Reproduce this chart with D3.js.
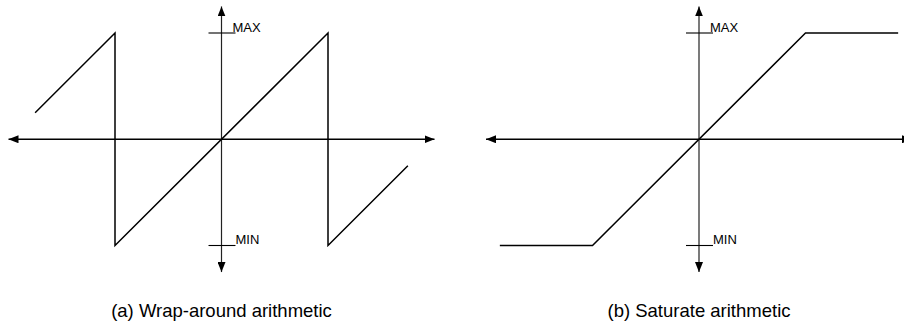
<!DOCTYPE html>
<html>
<head>
<meta charset="utf-8">
<script src="https://cdn.jsdelivr.net/npm/d3@7"></script>
<style>
  body { margin: 0; background: #fff; }
  text { font-family: "Liberation Sans", Arial, sans-serif; fill: #000; }
</style>
</head>
<body>
<div id="chart"></div>
<script>
// data (MAX = 1, MIN = -1)
var wrapX = [-1.75, -1, -1, 1, 1, 1.75];
var wrapY = [0.25, 1, -1, 1, -1, -0.25];
var satX = [-1.87, -1, 1, 1.87];
var satY = [-1, -1, 1, 1];
var levelLabels = ["MAX", "MIN"];
var levelValues = [1, -1];
var captions = ["(a) Wrap-around arithmetic", "(b) Saturate arithmetic"];

var width = 904,
  height = 325;

var svg = d3.select("#chart")
  .append("svg")
  .attr("width", width)
  .attr("height", height);

svg.append("defs").append("marker")
  .attr("id", "arrow")
  .attr("viewBox", "0 0 10 8")
  .attr("refX", 10)
  .attr("refY", 4)
  .attr("markerWidth", 10)
  .attr("markerHeight", 8)
  .attr("markerUnits", "userSpaceOnUse")
  .attr("orient", "auto")
  .append("path")
  .attr("d", "M0,0L10,4L0,8Z")
  .attr("fill", "#000");

var y = d3.scaleLinear().domain([-1, 1]).range([245.5, 33]);

function drawPanel(cx, xs, ys, caption) {
  var x = d3.scaleLinear().domain([-1, 1]).range([cx - 106.5, cx + 106.5]);
  var g = svg.append("g");

  // horizontal axis, arrows both ends
  g.append("line")
    .attr("x1", x(0)).attr("y1", y(0))
    .attr("x2", x(-2)).attr("y2", y(0))
    .attr("stroke", "#000").attr("stroke-width", 1.3)
    .attr("marker-end", "url(#arrow)");
  g.append("line")
    .attr("x1", x(0)).attr("y1", y(0))
    .attr("x2", x(2)).attr("y2", y(0))
    .attr("stroke", "#000").attr("stroke-width", 1.3)
    .attr("marker-end", "url(#arrow)");

  // vertical axis
  g.append("line")
    .attr("x1", x(0)).attr("y1", y(0))
    .attr("x2", x(0)).attr("y2", y(1.25))
    .attr("stroke", "#222").attr("stroke-width", 1.2)
    .attr("marker-end", "url(#arrow)");
  g.append("line")
    .attr("x1", x(0)).attr("y1", y(0))
    .attr("x2", x(0)).attr("y2", y(-1.25))
    .attr("stroke", "#222").attr("stroke-width", 1.2)
    .attr("marker-end", "url(#arrow)");

  // MAX / MIN ticks and labels
  g.selectAll(".lvl")
    .data(levelValues)
    .enter()
    .append("line")
    .attr("x1", x(0) - 13)
    .attr("x2", x(0) + 14)
    .attr("y1", function(d) { return y(d); })
    .attr("y2", function(d) { return y(d); })
    .attr("stroke", "#000")
    .attr("stroke-width", 1.1);

  g.selectAll(".lbl")
    .data(levelValues)
    .enter()
    .append("text")
    .attr("x", function(d, i) { return x(0) + (i == 0 ? 11 : 14); })
    .attr("y", function(d) { return y(d) - 1.5; })
    .attr("font-size", 13)
    .text(function(d, i) { return levelLabels[i]; });

  // the function curve
  var pts = xs.map(function(v, i) { return [v, ys[i]]; });
  var line = d3.line()
    .x(function(d) { return x(d[0]); })
    .y(function(d) { return y(d[1]); });

  g.append("path")
    .attr("d", line(pts))
    .attr("fill", "none")
    .attr("stroke", "#000")
    .attr("stroke-width", 1.5);

  g.append("text")
    .attr("x", x(0))
    .attr("y", 317)
    .attr("text-anchor", "middle")
    .attr("font-size", 18.5)
    .text(caption);
}

drawPanel(221.5, wrapX, wrapY, captions[0]);
drawPanel(699, satX, satY, captions[1]);
</script>
</body>
</html>
